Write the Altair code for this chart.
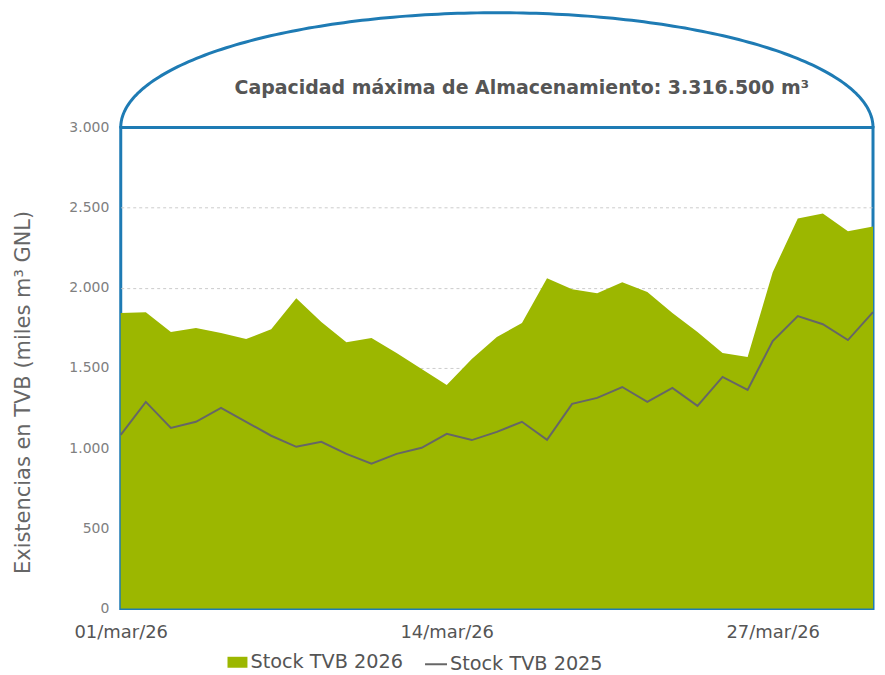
import altair as alt
import pandas as pd
import numpy as np

# ---- data ----
dates = pd.date_range("2026-03-01", "2026-03-31", freq="D")
stock_2026 = [1842, 1848, 1724, 1749, 1718, 1680, 1742, 1935, 1786, 1661,
              1686, 1593, 1493, 1394, 1556, 1693, 1780, 2060, 1991, 1966,
              2035, 1973, 1842, 1724, 1593, 1568, 2097, 2433, 2464, 2352, 2383]
stock_2025 = [1083, 1288, 1126, 1164, 1251, 1164, 1077, 1008, 1039, 964,
              902, 964, 1002, 1089, 1050, 1101, 1164, 1052, 1276, 1313,
              1381, 1288, 1375, 1263, 1444, 1363, 1668, 1823, 1773, 1674, 1848]
series_names = ["Stock TVB 2026", "Stock TVB 2025"]
x_tick_dates = ["2026-03-01", "2026-03-14", "2026-03-27"]
y_ticks = [0, 500, 1000, 1500, 2000, 2500, 3000]
capacity_label = "Capacidad máxima de Almacenamiento: 3.316.500 m³"

GREEN = "#9cb700"
GRAY = "#666666"
BLUE = "#1e7bb4"

df = pd.DataFrame({
    "fecha": list(dates.strftime("%Y-%m-%d")) * 2,
    "valor": stock_2026 + stock_2025,
    "serie": [series_names[0]] * len(dates) + [series_names[1]] * len(dates),
})

W, H = 754, 482
DOME_UNITS = 716  # height of the decorative dome above the 3.000 line, in axis units

# decorative dome (half ellipse above the plot area)
t = np.linspace(0, np.pi, 181)
center = pd.Timestamp("2026-03-16")
dome = pd.DataFrame({
    "fecha": [(center + pd.Timedelta(days=15 * np.cos(a))).strftime("%Y-%m-%dT%H:%M:%S") for a in t],
    "valor": 3000 + DOME_UNITS * np.sin(t),
})

x_scale = alt.Scale(type="utc", domain=["2026-03-01", "2026-03-31"], nice=False)
y_scale = alt.Scale(domain=[0, 3000], nice=False)

x_axis = alt.Axis(
    title=None, values=x_tick_dates, labelExpr="lower(utcFormat(datum.value, '%d/%b/%y'))",
    ticks=False, domain=False, grid=False, labelFontSize=18, labelColor="#555555",
    labelPadding=15, labelFont="DejaVu Sans", labelOverlap=False, labelFlush=False,
)
y_axis = alt.Axis(
    title="Existencias en TVB (miles m³ GNL)", values=y_ticks,
    labelExpr="replace(format(datum.value, ','), ',', '.')",
    ticks=False, domain=False, grid=True, gridColor="#cccccc", gridDash=[3, 3],
    gridOpacity={"condition": {"test": "datum.value >= 3000 || datum.value <= 0", "value": 0}, "value": 1},
    labelFontSize=14, labelColor="#808080", labelPadding=12, labelFont="DejaVu Sans",
    titleFontSize=21, titleColor="#666666", titleFont="DejaVu Sans", titleFontWeight="normal",
    titlePadding=35, titleY=265,
)

base = alt.Chart(df)

area = base.transform_filter(alt.datum.serie == series_names[0]).mark_area(
    color=GREEN, opacity=1, line=False
).encode(
    x=alt.X("fecha:T", scale=x_scale, axis=x_axis),
    y=alt.Y("valor:Q", scale=y_scale, axis=y_axis),
    color=alt.Color("serie:N", scale=alt.Scale(domain=[series_names[0]], range=[GREEN]),
                    legend=alt.Legend(title=None, orient="none", legendX=107, legendY=526,
                                      symbolType="M-1,-0.55L1,-0.55L1,0.55L-1,0.55Z",
                                      symbolSize=400, labelFontSize=19.3,
                                      labelColor="#555555", labelFont="DejaVu Sans",
                                      labelOffset=3, symbolStrokeWidth=0)),
)

line = base.transform_filter(alt.datum.serie == series_names[1]).mark_line(
    strokeWidth=2
).encode(
    x=alt.X("fecha:T", scale=x_scale),
    y=alt.Y("valor:Q", scale=y_scale),
    color=alt.Color("serie:N", scale=alt.Scale(domain=[series_names[1]], range=[GRAY]),
                    legend=alt.Legend(title=None, orient="none", legendX=304, legendY=526,
                                      symbolType="stroke", symbolSize=484, symbolStrokeWidth=2,
                                      labelFontSize=19.3, labelColor="#555555",
                                      labelFont="DejaVu Sans", labelOffset=2)),
)

dome_line = alt.Chart(dome).mark_line(
    color=BLUE, strokeWidth=3, clip=False, strokeJoin="round", strokeCap="round"
).encode(
    x=alt.X("fecha:T", scale=x_scale),
    y=alt.Y("valor:Q", scale=y_scale),
    order=alt.value(0),
)

title_text = alt.Chart(pd.DataFrame({"t": [capacity_label]})).mark_text(
    font="DejaVu Sans", fontSize=19, fontWeight="bold", color="#555555", clip=False
).encode(
    text="t:N",
    x=alt.value(402),
    y=alt.value(-40),
)

chart = alt.layer(area, line, dome_line, title_text).resolve_scale(
    color="independent"
).properties(
    width=W, height=H,
    padding={"left": 4, "top": 2, "right": 0, "bottom": 0},
).configure_view(
    stroke=BLUE, strokeWidth=3
)

chart.save("out.html", embed_options={"renderer": "svg", "actions": False})
